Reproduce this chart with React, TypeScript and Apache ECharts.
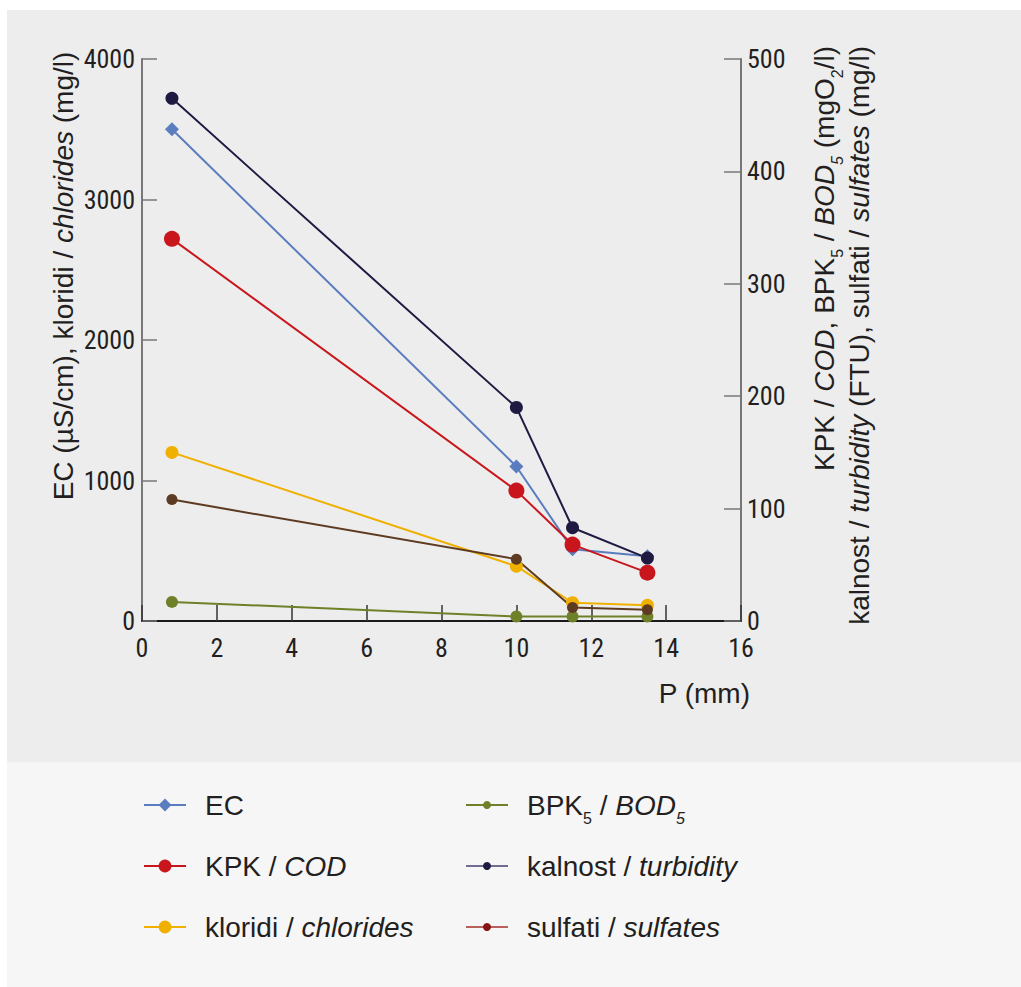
import React, { useEffect, useRef } from 'react';
import * as echarts from 'echarts';

// ---- data ----
const xValues = [0.8, 10, 11.5, 13.5];
const ecValues = [3500, 1100, 510, 460];
const codValues = [340, 116, 68, 43];
const chlorideValues = [1200, 390, 130, 112];
const bodValues = [17, 4, 4, 4];
const turbidityValues = [465, 190, 83, 56];
const sulfateValues = [108, 55, 12, 10];

const seriesNames = {
  ec: 'EC',
  cod: 'KPK / COD',
  cl: 'kloridi / chlorides',
  bod: 'BPK5 / BOD5',
  turb: 'kalnost / turbidity',
  so4: 'sulfati / sulfates',
};

const legendRich: Record<string, string> = {
  'EC': 'EC',
  'KPK / COD': 'KPK / {i|COD}',
  'kloridi / chlorides': 'kloridi / {i|chlorides}',
  'BPK5 / BOD5': 'BPK{s|5} / {i|BOD}{si|5}',
  'kalnost / turbidity': 'kalnost / {i|turbidity}',
  'sulfati / sulfates': 'sulfati / {i|sulfates}',
};

const leftAxisTitle = 'EC (µS/cm), kloridi / {i|chlorides} (mg/l)';
const rightAxisTitle1 = 'KPK / {i|COD}, BPK{s|5} / {i|BOD}{si|5} (mgO{s|2}/l)';
const rightAxisTitle2 = 'kalnost / {i|turbidity} (FTU), sulfati / {i|sulfates} (mg/l)';
const xAxisTitle = 'P (mm)';

const TEXT_FONT = "'Liberation Sans', Arial, sans-serif";
const NUM_FONT = "'Liberation Sans Narrow', 'Roboto Condensed', 'Open Sans Condensed', 'Liberation Sans', sans-serif";
const TEXT_COLOR = '#231f20';
const LH = 42;

const rich = {
  i: { fontStyle: 'italic', fontSize: 28, fontFamily: TEXT_FONT, lineHeight: LH, color: TEXT_COLOR },
  s: { fontSize: 16, fontFamily: TEXT_FONT, lineHeight: 4, verticalAlign: 'bottom', color: TEXT_COLOR },
  si: { fontStyle: 'italic', fontSize: 16, fontFamily: TEXT_FONT, lineHeight: 4, verticalAlign: 'bottom', color: TEXT_COLOR },
};

const graphicRich = {
  i: { fontStyle: 'italic', fontSize: 28, fontFamily: TEXT_FONT, lineHeight: LH, fill: TEXT_COLOR },
  s: { fontSize: 16, fontFamily: TEXT_FONT, lineHeight: 4, verticalAlign: 'bottom', fill: TEXT_COLOR },
  si: { fontStyle: 'italic', fontSize: 16, fontFamily: TEXT_FONT, lineHeight: 4, verticalAlign: 'bottom', fill: TEXT_COLOR },
};

function pairs(vals: number[]) {
  return xValues.map((x, i) => [x, vals[i]]);
}

export default function App() {
  const ref = useRef<HTMLDivElement>(null);
  useEffect(() => {
    if (!ref.current) return;
    const chart = echarts.init(ref.current, undefined, { renderer: 'svg' });
    const lineSeries = (name: string, data: number[], color: string, yAxisIndex: number, symbol: string, size: number) => ({
      type: 'line',
      name,
      data: pairs(data),
      yAxisIndex,
      symbol,
      symbolSize: size,
      showSymbol: true,
      lineStyle: { color, width: 2 },
      itemStyle: { color },
      emphasis: { disabled: true },
    });
    const legendText = {
      fontSize: 28,
      fontFamily: TEXT_FONT,
      color: TEXT_COLOR,
      lineHeight: LH,
      padding: [0, 0, 0, 14],
      rich,
    };
    const numLabel = (margin: number) => ({
      margin,
      fontSize: 26,
      fontFamily: NUM_FONT,
      color: TEXT_COLOR,
      formatter: (v: number) => String(v),
    });
    const option: any = {
      animation: false,
      backgroundColor: '#ffffff',
      graphic: [
        { type: 'rect', silent: true, z: -10, shape: { x: 7, y: 10, width: 1014, height: 752 }, style: { fill: '#ededed' } },
        { type: 'rect', silent: true, z: -10, shape: { x: 7, y: 762, width: 1014, height: 225 }, style: { fill: '#f6f6f6' } },
        {
          type: 'text', x: 63, y: 276, rotation: Math.PI / 2, silent: true,
          style: { text: leftAxisTitle, rich: graphicRich, fontSize: 28, fontFamily: TEXT_FONT, lineHeight: LH, fill: TEXT_COLOR, align: 'center', verticalAlign: 'middle' },
        },
        {
          type: 'text', x: 824, y: 46, rotation: Math.PI / 2, silent: true,
          style: { text: rightAxisTitle1, rich: graphicRich, fontSize: 28, fontFamily: TEXT_FONT, lineHeight: LH, fill: TEXT_COLOR, align: 'right', verticalAlign: 'middle' },
        },
        {
          type: 'text', x: 859, y: 46, rotation: Math.PI / 2, silent: true,
          style: { text: rightAxisTitle2, rich: graphicRich, fontSize: 28, fontFamily: TEXT_FONT, lineHeight: LH, fill: TEXT_COLOR, align: 'right', verticalAlign: 'middle' },
        },
        {
          type: 'text', x: 750, y: 693, silent: true,
          style: { text: xAxisTitle, fontSize: 28, fontFamily: TEXT_FONT, fill: TEXT_COLOR, align: 'right', verticalAlign: 'middle' },
        },
      ],
      grid: { left: 142, right: 280, top: 59, bottom: 366, containLabel: false },
      xAxis: {
        type: 'value', min: 0, max: 16, interval: 2,
        axisLine: { show: true, onZero: false, lineStyle: { color: '#1a1a1a', width: 2 } },
        axisTick: { show: true, inside: true, length: 16, lineStyle: { color: '#333', width: 1.5 } },
        axisLabel: numLabel(14),
        splitLine: { show: false },
      },
      yAxis: [
        {
          type: 'value', min: 0, max: 4000, interval: 1000, position: 'left',
          axisLine: { show: true, lineStyle: { color: '#777', width: 2 } },
          axisTick: { show: true, inside: true, length: 15, lineStyle: { color: '#777', width: 1.5 } },
          axisLabel: numLabel(7),
          splitLine: { show: false },
        },
        {
          type: 'value', min: 0, max: 500, interval: 100, position: 'right',
          axisLine: { show: true, lineStyle: { color: '#777', width: 2 } },
          axisTick: { show: true, inside: true, length: 17, lineStyle: { color: '#777', width: 1.5 } },
          axisLabel: numLabel(6),
          splitLine: { show: false },
        },
      ],
      legend: [
        {
          orient: 'vertical', left: 143, top: 784, padding: 0, itemGap: 19,
          itemWidth: 42, itemHeight: 16, selectedMode: false,
          data: [seriesNames.ec, seriesNames.cod, seriesNames.cl],
          formatter: (n: string) => legendRich[n] ?? n,
          textStyle: legendText,
        },
        {
          orient: 'vertical', left: 465, top: 784, padding: 0, itemGap: 19,
          itemWidth: 42, itemHeight: 10, selectedMode: false,
          data: [
            { name: seriesNames.bod, lineStyle: { color: '#6e8128' }, itemStyle: { color: '#6e8128' } },
            { name: seriesNames.turb, lineStyle: { color: '#6f6d92' }, itemStyle: { color: '#1e1a42' } },
            { name: seriesNames.so4, lineStyle: { color: '#b8605a' }, itemStyle: { color: '#8a1414' } },
          ],
          formatter: (n: string) => legendRich[n] ?? n,
          textStyle: legendText,
        },
      ],
      series: [
        lineSeries(seriesNames.ec, ecValues, '#5a7dbf', 0, 'diamond', 14),
        lineSeries(seriesNames.cl, chlorideValues, '#f0b000', 0, 'circle', 13),
        lineSeries(seriesNames.cod, codValues, '#c9161c', 1, 'circle', 16),
        lineSeries(seriesNames.bod, bodValues, '#6e8128', 1, 'circle', 12),
        lineSeries(seriesNames.so4, sulfateValues, '#5d3b22', 1, 'circle', 11),
        lineSeries(seriesNames.turb, turbidityValues, '#1e1a42', 1, 'circle', 13),
      ],
    };
    chart.setOption(option);
    return () => chart.dispose();
  }, []);
  return (
    <div
      ref={ref}
      style={{ position: 'absolute', left: 0, top: 0, width: 1021, height: 987 }}
    />
  );
}
